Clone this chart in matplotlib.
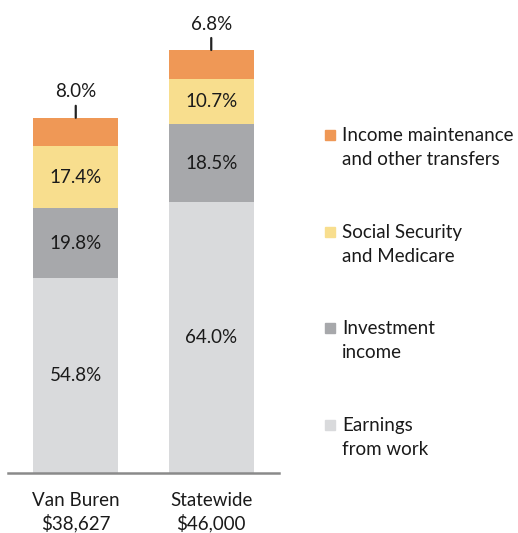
import matplotlib.pyplot as plt
from matplotlib.patches import Rectangle

plt.rcParams['font.family'] = ['Lato', 'DejaVu Sans']

# Datos
places = ['Van Buren', 'Statewide']
totals = [38627, 46000]
total_labels = ['$38,627', '$46,000']
sources = ['Earnings\nfrom work', 'Investment\nincome',
           'Social Security\nand Medicare', 'Income maintenance\nand other transfers']
shares = [
    [54.8, 64.0],   # earnings
    [19.8, 18.5],   # investment
    [17.4, 10.7],   # social security
    [8.0, 6.8],     # transfers
]
colors = ['#D9DADC', '#A7A8AB', '#F8DE8E', '#EF9856']
fs = 13.5

fig = plt.figure(figsize=(5.18, 5.33), dpi=100)
ax = fig.add_axes([8 / 518, 60 / 533, 271 / 518, 473 / 533])

x = list(range(len(places)))
bottoms = [0.0] * len(places)
for k, (vals, col) in enumerate(zip(shares, colors)):
    # normalizar para que la barra sume el ingreso total
    heights = []
    for i in x:
        s = sum(shares[j][i] for j in range(len(shares)))
        heights.append(vals[i] / s * totals[i])
    ax.bar(x, heights, bottom=bottoms, width=0.63, color=col, edgecolor='none')
    for i in x:
        if k < len(shares) - 1:
            ax.text(i, bottoms[i] + heights[i] / 2, f'{vals[i]:.1f}%',
                    ha='center', va='center', fontsize=fs, color='#1a1a1a')
        else:
            top = bottoms[i] + heights[i]
            ax.annotate('', xy=(i, top), xytext=(0, 12), textcoords='offset pixels',
                        arrowprops=dict(arrowstyle='-', lw=1.6, color='#222222',
                                        shrinkA=0, shrinkB=0))
            ax.annotate(f'{vals[i]:.1f}%', xy=(i, top), xytext=(0, 26),
                        textcoords='offset pixels', ha='center', va='center',
                        fontsize=fs, color='#1a1a1a')
    bottoms = [bottoms[i] + heights[i] for i in x]

ax.set_xlim(-0.5, 1.5)
ax.set_ylim(0, 46000 * 473 / 423)
ax.set_xticks(x)
ax.set_xticklabels([f'{p}\n{t}' for p, t in zip(places, total_labels)],
                   fontsize=fs, color='#1a1a1a', linespacing=1.3)
ax.tick_params(axis='x', length=0, pad=14)
ax.set_yticks([])
for s in ['top', 'left', 'right']:
    ax.spines[s].set_visible(False)
ax.spines['bottom'].set_color('#8a8a8a')
ax.spines['bottom'].set_linewidth(1.8)

# Leyenda manual
legend_y = [135, 232, 328, 425]
for lab, col, yy in zip(sources[::-1], colors[::-1], legend_y):
    fig.add_artist(Rectangle((325 / 518, 1 - (yy + 5) / 533), 10 / 518, 10 / 533,
                             transform=fig.transFigure, color=col))
    fig.text(342 / 518, 1 - (yy - 8) / 533, lab, ha='left', va='top',
             fontsize=fs, color='#1a1a1a', linespacing=1.5)

fig.savefig('out.png', dpi=100)
